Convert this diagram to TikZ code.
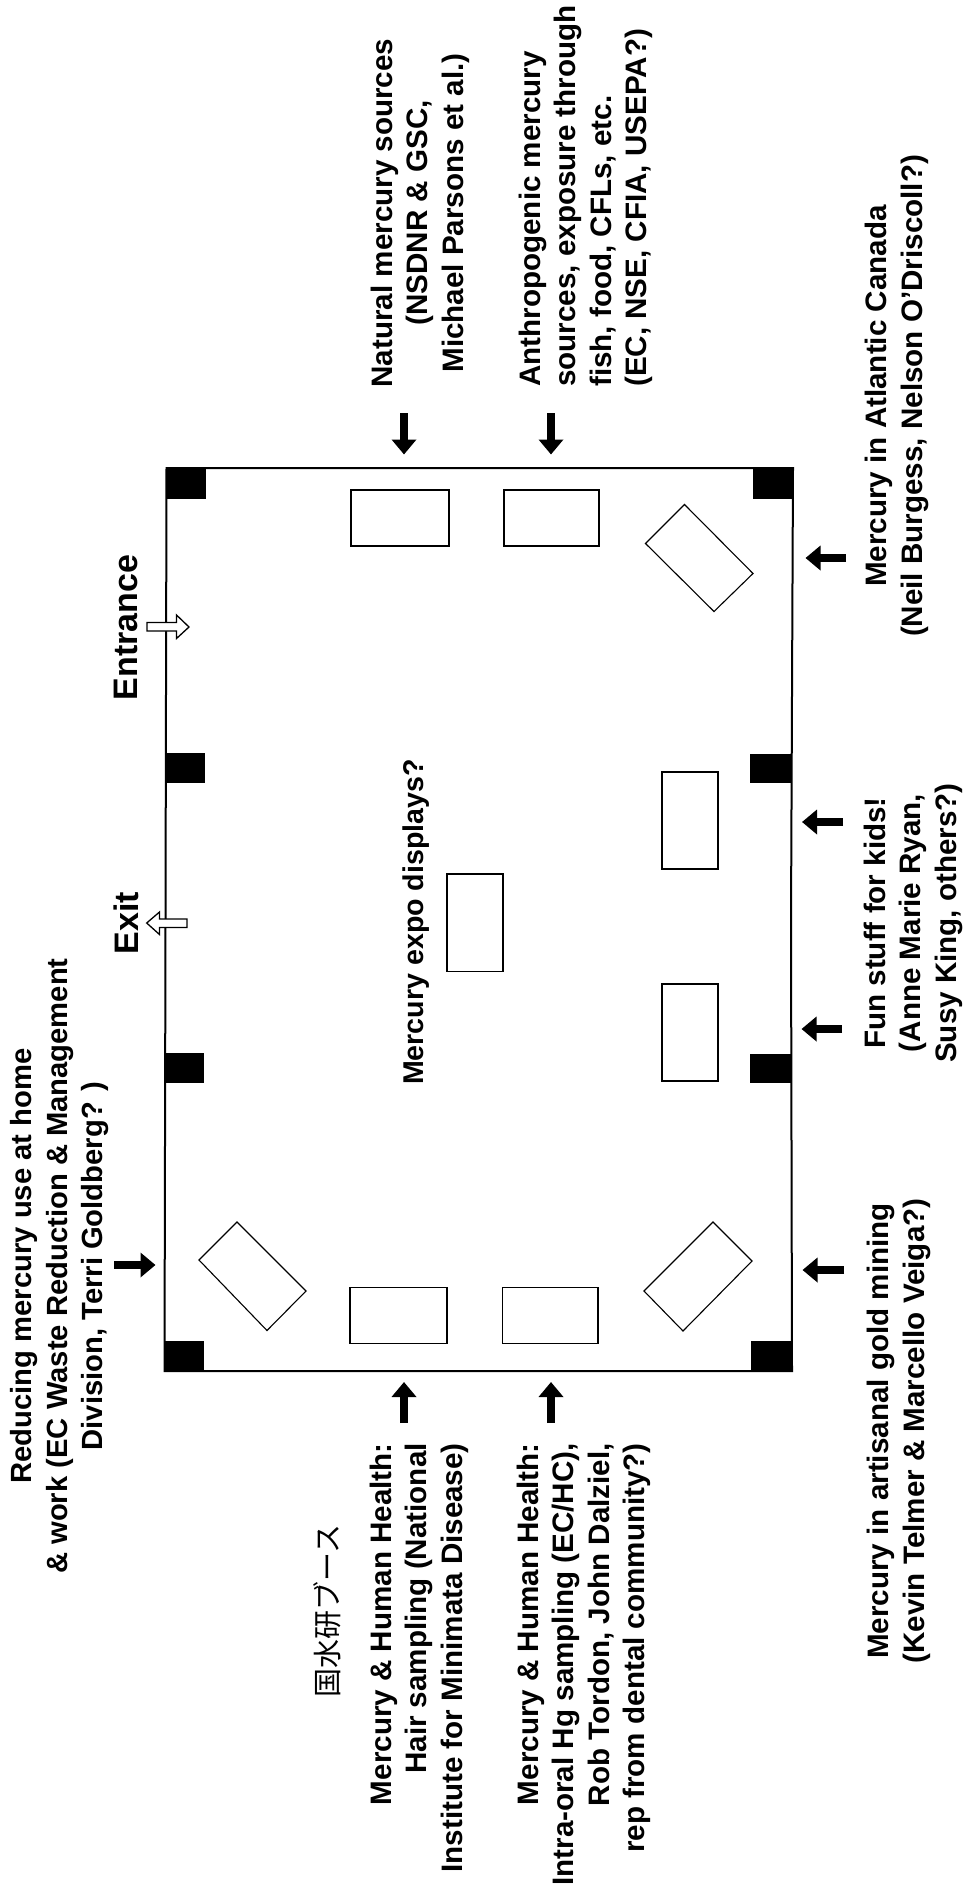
\documentclass[tikz,border=0pt]{standalone}
\usepackage{fontspec}
\setmainfont{Liberation Sans}
\newfontfamily\cjkfont{Noto Sans CJK JP}
\usetikzlibrary{arrows.meta}
\tikzset{
  wall/.style={line width=2pt,draw=black},
  pillar/.style={fill=black,draw=none},
  stand/.style={line width=1.5pt,draw=black,fill=white},
  tiltstand/.style={line width=1.1pt,draw=black,fill=white},
  blockarrow/.style={line width=8pt,-{Triangle[width=24pt,length=15pt]}},
  openarrow/.style={line width=1.3pt,draw=black,fill=white},
  label/.style={rotate=90,inner sep=0pt,font=\bfseries\fontsize{29.6}{35.5}\selectfont},
  bigl/.style={rotate=90,inner sep=0pt,font=\bfseries\fontsize{34}{40}\selectfont},
}
\begin{document}
\begin{tikzpicture}[x=1pt,y=-1pt]
\useasboundingbox (0,0) rectangle (966,1886);
% walls
\draw[wall] (166.5,468) -- (793,468) -- (791,920) -- (792,1371) -- (164.5,1371) -- cycle;
% pillars
\fill[pillar] (166.5,468) rectangle (205.5,499);
\fill[pillar] (753,468) rectangle (793,499);
\fill[pillar] (165.5,753) rectangle (205,783);
\fill[pillar] (750,754) rectangle (791,783);
\fill[pillar] (164,1053) rectangle (204,1083);
\fill[pillar] (750,1054) rectangle (791,1083);
\fill[pillar] (164.5,1340.5) rectangle (204,1371);
\fill[pillar] (751,1340.5) rectangle (792,1371);
% stands
\draw[stand] (351,490) rectangle (449,546);
\draw[stand] (504,490) rectangle (599,546);
\draw[stand] (350,1287.5) rectangle (447,1343.5);
\draw[stand] (502.5,1287.5) rectangle (598,1343.5);
\draw[stand] (447,874) rectangle (503,971.5);
\draw[stand] (662,772) rectangle (718,869);
\draw[stand] (662,984) rectangle (718,1081);
\draw[tiltstand] (684.5,504.5) -- (753,573.5) -- (714,611.5) -- (645.5,543.5) -- cycle;
\draw[tiltstand] (237,1222) -- (306,1291) -- (267,1330.5) -- (199,1260) -- cycle;
\draw[tiltstand] (713,1222) -- (752,1261) -- (683,1331) -- (644,1291) -- cycle;
% arrow ends
\coordinate (a1s) at (404,413); \coordinate (a1e) at (404,454.5);
\coordinate (a2s) at (551,413); \coordinate (a2e) at (551,454.5);
\coordinate (a3s) at (846,558); \coordinate (a3e) at (805.5,558);
\coordinate (a4s) at (843,822); \coordinate (a4e) at (802,822);
\coordinate (a5s) at (842,1029); \coordinate (a5e) at (801.5,1029);
\coordinate (a6s) at (844,1270); \coordinate (a6e) at (802.5,1270);
\coordinate (a7s) at (404,1423); \coordinate (a7e) at (404,1382);
\coordinate (a8s) at (551,1423); \coordinate (a8e) at (551,1382);
\coordinate (a9s) at (114,1265); \coordinate (a9e) at (155.5,1265);
\foreach \n in {1,...,9} \draw[blockarrow] (a\n s) -- (a\n e);
% open arrows
\draw[openarrow] (147,622.5) -- (176.5,622.5) -- (176.5,615) -- (189,627) -- (176.5,638.5) -- (176.5,631) -- (147,631) -- cycle;
\draw[openarrow] (187,919) -- (159.5,919) -- (159.5,912) -- (146.7,923) -- (159.5,934.5) -- (159.5,927.5) -- (187,927.5) -- cycle;
% labels
\node[bigl] (entrance) at (126,627.5) {Entrance};
\node[bigl] (exit) at (126,923) {Exit};
\node[label,font=\bfseries\fontsize{28.6}{35}\selectfont] (expo) at (416,922) {Mercury expo displays?};
\node[label,align=center] (natural) at (420,213) {Natural mercury sources\\(NSDNR \& GSC,\\Michael Parsons et al.)};
\node[label,align=left] (anthro) at (586,196) {Anthropogenic mercury\\sources, exposure through\\fish, food, CFLs, etc.\\(EC, NSE, CFIA, USEPA?)};
\node[label,align=center] (atlantic) at (897,396) {Mercury in Atlantic Canada\\(Neil Burgess, Nelson O'Driscoll?)};
\node[label,align=center] (fun) at (913,923) {Fun stuff for kids!\\(Anne Marie Ryan,\\Susy King, others?)};
\node[label,align=center] (gold) at (899,1431) {Mercury in artisanal gold mining\\(Kevin Telmer \& Marcello Veiga?)};
\node[label,align=center,font=\bfseries\fontsize{29.2}{35.5}\selectfont] (home) at (60,1266) {Reducing mercury use at home\\\& work (EC Waste Reduction \& Management\\Division, Terri Goldberg? )};
\node[label,align=right,anchor=east] (hair) at (419,1443) {Mercury \& Human Health:\\Hair sampling (National\\Institute for Minimata Disease)};
\node[label,align=right,anchor=east] (oral) at (584,1443) {Mercury \& Human Health:\\Intra-oral Hg sampling (EC/HC),\\Rob Tordon, John Dalziel,\\rep from dental community?)};
\node[rotate=90,inner sep=0pt,font=\cjkfont\fontsize{29}{35}\selectfont] (kokusui) at (327,1611) {国水研ブース};
\end{tikzpicture}
\end{document}
